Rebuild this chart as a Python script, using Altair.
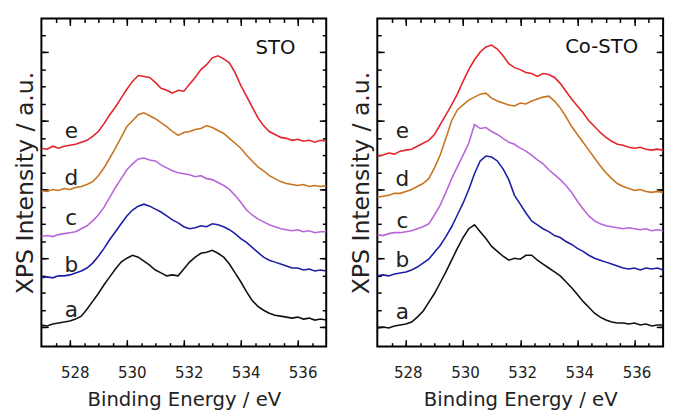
import altair as alt
import pandas as pd

# Binding energy sampling (eV)
energy = [round(527.0 + 0.2 * i, 1) for i in range(51)]

# ---- STO panel (intensity, arbitrary units, offset curves) ----
sto_a = [22, 21, 23, 24, 25, 26, 28, 31, 38, 46, 54, 63, 71, 79, 86, 90, 93, 91, 87, 83, 78, 75, 72, 73, 72, 79,
         86, 91, 95, 96, 98, 95, 91, 84, 75, 66, 56, 47, 41, 37, 34, 32, 31, 30, 29, 30, 28, 29, 27, 28, 27]
sto_b = [70, 71, 70, 72, 72, 73, 75, 77, 80, 85, 92, 100, 109, 117, 125, 133, 139, 143, 145, 143, 140, 137, 133,
         129, 126, 122, 120, 121, 123, 122, 125, 124, 122, 119, 115, 110, 106, 101, 96, 91, 88, 86, 84, 82, 80, 80,
         78, 79, 77, 78, 77]
sto_c = [112, 113, 112, 114, 115, 116, 117, 120, 123, 128, 134, 142, 152, 162, 171, 180, 186, 191, 192, 190, 189,
         185, 182, 179, 177, 176, 175, 173, 174, 171, 170, 167, 164, 160, 154, 147, 139, 134, 130, 127, 124, 122,
         120, 119, 118, 119, 117, 118, 116, 117, 117]
sto_d = [159, 158, 160, 159, 161, 160, 162, 163, 165, 168, 174, 182, 192, 202, 213, 224, 230, 236, 238, 235, 232,
         228, 224, 219, 215, 218, 219, 221, 222, 225, 223, 220, 217, 212, 207, 202, 195, 189, 183, 179, 174, 171,
         168, 166, 165, 164, 165, 163, 164, 163, 164]
sto_e = [202, 201, 204, 202, 204, 205, 206, 208, 210, 214, 219, 227, 236, 244, 253, 262, 270, 276, 275, 274, 269,
         263, 261, 258, 261, 260, 267, 274, 282, 287, 294, 296, 293, 289, 279, 266, 255, 244, 233, 225, 219, 216,
         213, 212, 210, 211, 209, 210, 208, 210, 209]

# ---- Co-STO panel ----
co_a = [19, 20, 19, 21, 22, 23, 25, 30, 36, 45, 54, 65, 76, 88, 100, 111, 120, 124, 117, 110, 102, 97, 92, 88, 90,
        89, 93, 93, 88, 84, 80, 76, 72, 66, 60, 53, 46, 40, 34, 30, 27, 25, 24, 24, 23, 24, 22, 23, 21, 22, 22]
co_b = [72, 73, 72, 74, 75, 76, 78, 81, 85, 89, 96, 103, 112, 122, 134, 146, 160, 176, 189, 194, 193, 189, 181,
        170, 154, 145, 136, 128, 124, 120, 117, 113, 111, 107, 104, 100, 97, 93, 90, 88, 86, 84, 82, 80, 79, 80,
        78, 80, 79, 80, 78]
co_c = [114, 113, 115, 116, 116, 117, 118, 120, 122, 125, 134, 144, 157, 171, 183, 195, 207, 226, 222, 223, 219,
        216, 212, 208, 206, 202, 199, 195, 190, 186, 180, 175, 170, 164, 157, 148, 140, 133, 128, 125, 123, 122,
        121, 120, 121, 120, 119, 120, 118, 119, 118]
co_d = [152, 153, 154, 156, 156, 158, 160, 163, 166, 171, 182, 195, 212, 230, 241, 246, 251, 254, 257, 258, 253,
        250, 248, 246, 245, 248, 247, 250, 252, 254, 255, 250, 243, 234, 224, 216, 208, 200, 192, 184, 177, 171,
        166, 163, 161, 159, 160, 158, 157, 158, 157]
co_e = [194, 195, 197, 196, 199, 200, 201, 204, 207, 210, 216, 226, 236, 246, 257, 270, 282, 292, 300, 305, 307,
        303, 296, 288, 284, 282, 279, 278, 275, 278, 277, 274, 268, 260, 252, 245, 238, 230, 224, 218, 213, 209,
        206, 205, 203, 202, 203, 201, 200, 201, 200]

curve_names = ["a", "b", "c", "d", "e"]
curve_colors = ["#111111", "#1c1fa6", "#b767d9", "#c8741f", "#e3242b"]

# curve letter labels
sto_letter_x = [528.05, 528.05, 528.05, 528.05, 528.05]
sto_letter_y = [30, 76, 124, 165, 212]
co_letter_x = [527.88, 527.88, 527.88, 527.88, 527.88]
co_letter_y = [28, 81, 121, 164, 212]

x_major = [528, 530, 532, 534, 536]
x_minor = [527.5 + 0.5 * i for i in range(19)]
y_major = [20, 90, 160, 230, 300]
y_minor = [20 + 17.5 * i for i in range(18)]

LABEL_FONT = "Liberation Sans Narrow, DejaVu Sans Condensed, Liberation Sans, sans-serif"
TEXT_FONT = "DejaVu Sans"


def tick_axis(orient, values, size):
    return alt.Axis(orient=orient, values=values, labels=False, tickSize=size, offset=-size,
                    title=None, grid=False, domain=False, tickColor="black", tickWidth=1.5)


def panel(series, letter_x, letter_y, name, name_x, name_y, width, label_offset):
    rows = []
    for cname, vals in zip(curve_names, series):
        for e, v in zip(energy, vals):
            rows.append({"curve": cname, "energy": e, "intensity": v})
    df = pd.DataFrame(rows)
    letters = pd.DataFrame({"energy": letter_x, "intensity": letter_y, "txt": curve_names})
    title_df = pd.DataFrame({"energy": [name_x], "intensity": [name_y], "txt": [name]})

    xs = alt.Scale(domain=[527, 537], nice=False, zero=False)
    ys = alt.Scale(domain=[0, 334], nice=False, zero=False)
    base = alt.Chart(df)

    lines = base.mark_line(strokeWidth=1.6, clip=True).encode(
        x=alt.X("energy:Q", scale=xs, axis=alt.Axis(
            orient="bottom", values=x_major, tickSize=7, offset=-7, labelPadding=18,
            labelOffset=label_offset, title="Binding Energy / eV", titlePadding=10,
            titleFontSize=20, titleFont=TEXT_FONT, titleFontWeight="normal", titleColor="#222222",
            labelFont=LABEL_FONT, labelFontSize=17, labelColor="#222222", format="d",
            grid=False, domain=False, tickColor="black", tickWidth=1.5)),
        y=alt.Y("intensity:Q", scale=ys, axis=alt.Axis(
            orient="left", values=y_major, labels=False, tickSize=7, offset=-7,
            title="XPS Intensity / a.u.", titlePadding=3, titleFontSize=24, titleFont=TEXT_FONT,
            titleFontWeight="normal", titleColor="#222222",
            grid=False, domain=False, tickColor="black", tickWidth=1.5)),
        color=alt.Color("curve:N", scale=alt.Scale(domain=curve_names, range=curve_colors), legend=None),
        order=alt.Order("energy:Q"),
    )
    minor_lb = base.mark_line(strokeOpacity=0).encode(
        x=alt.X("energy:Q", scale=xs, axis=tick_axis("bottom", x_minor, 4)),
        y=alt.Y("intensity:Q", scale=ys, axis=tick_axis("left", y_minor, 4)),
        detail="curve:N",
    )
    major_tr = base.mark_line(strokeOpacity=0).encode(
        x=alt.X("energy:Q", scale=xs, axis=tick_axis("top", x_major, 7)),
        y=alt.Y("intensity:Q", scale=ys, axis=tick_axis("right", y_major, 7)),
        detail="curve:N",
    )
    minor_tr = base.mark_line(strokeOpacity=0).encode(
        x=alt.X("energy:Q", scale=xs, axis=tick_axis("top", x_minor, 4)),
        y=alt.Y("intensity:Q", scale=ys, axis=tick_axis("right", y_minor, 4)),
        detail="curve:N",
    )
    letter_marks = alt.Chart(letters).mark_text(
        font=TEXT_FONT, fontSize=22, color="#222222", align="center", baseline="alphabetic"
    ).encode(
        x=alt.X("energy:Q", scale=xs, axis=None),
        y=alt.Y("intensity:Q", scale=ys, axis=None),
        text="txt:N",
    )
    name_mark = alt.Chart(title_df).mark_text(
        font=TEXT_FONT, fontSize=20, color="#111111", align="center", baseline="alphabetic"
    ).encode(
        x=alt.X("energy:Q", scale=xs, axis=None),
        y=alt.Y("intensity:Q", scale=ys, axis=None),
        text="txt:N",
    )
    return alt.layer(lines, minor_lb, major_tr, minor_tr, letter_marks, name_mark).resolve_axis(
        x="independent", y="independent"
    ).properties(width=width, height=334)


left = panel([sto_a, sto_b, sto_c, sto_d, sto_e], sto_letter_x, sto_letter_y, "STO", 535.22, 298, 290, 5)
right = panel([co_a, co_b, co_c, co_d, co_e], co_letter_x, co_letter_y, "Co-STO", 534.85, 299, 291, 2)

chart = alt.hconcat(left, right, spacing=21).configure_axis(
    domain=False, grid=False, tickColor="black", tickWidth=1.5,
    labelFont=LABEL_FONT, labelFontSize=17, labelColor="#222222",
    titleFont=TEXT_FONT, titleFontWeight="normal", titleColor="#222222",
).configure_view(stroke="black", strokeWidth=2)

chart.save("out.html", embed_options={"renderer": "svg", "actions": False})
